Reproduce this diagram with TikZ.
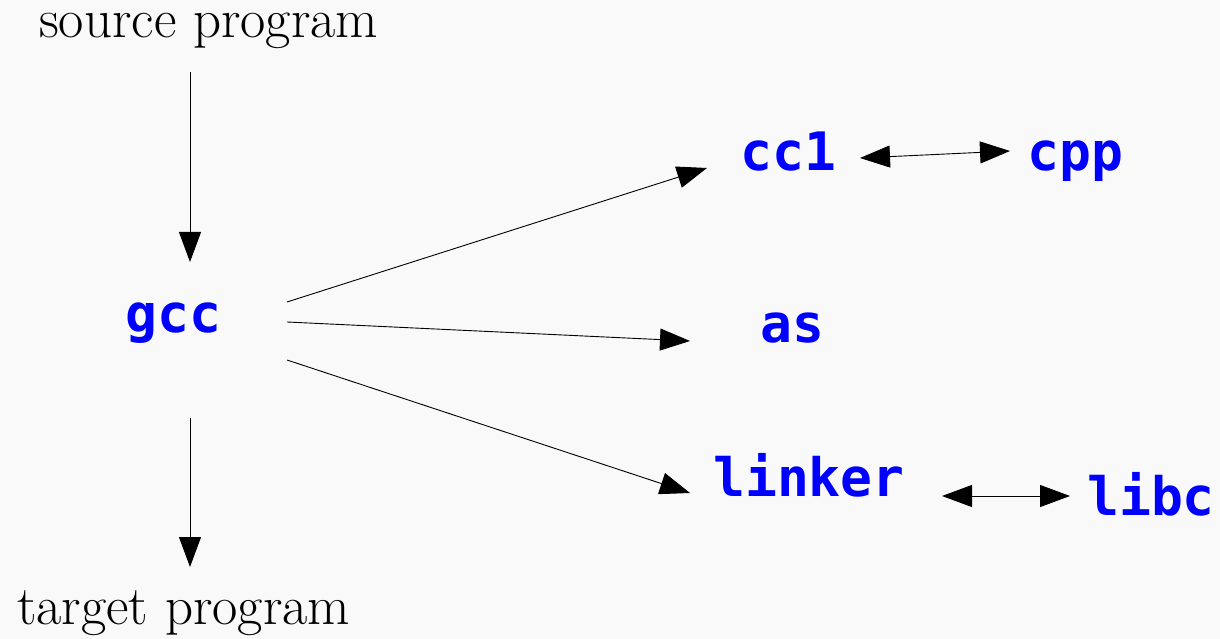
\documentclass[tikz,border=0pt]{standalone}
\usepackage{fontspec}
\newfontfamily\codefont{DejaVu Sans Mono}
\usetikzlibrary{arrows.meta}
\definecolor{codeblue}{RGB}{0,0,255}
\definecolor{bgc}{RGB}{249,249,249}
\tikzset{
  serif/.style={inner sep=0pt, anchor=base west, font=\fontsize{55bp}{60bp}\selectfont},
  code/.style={inner sep=0pt, anchor=base west, text=codeblue, font=\codefont\bfseries\fontsize{53bp}{60bp}\selectfont},
  conn/.style={line width=0.9bp, -{Triangle[length=30bp,width=22bp]}},
  biconn/.style={line width=0.9bp, {Triangle[length=30bp,width=22bp]}-{Triangle[length=30bp,width=22bp]}}
}
\begin{document}
\begin{tikzpicture}[x=1bp,y=-1bp]
\fill[bgc] (0,0) rectangle (1220,639);
\useasboundingbox (0,0) rectangle (1220,639);
\node[serif, text height=24bp] (src) at (39,38) {source program};
\node[serif] (tgt) at (17,624) {target program};
\node[code] (gcc) at (125,333) {gcc};
\node[code] (cc1) at (740,171) {cc1};
\node[code] (cpp) at (1027,171) {cpp};
\node[code] (as) at (760,343) {as};
\node[code] (linker) at (713,496) {linker};
\node[code] (libc) at (1087,515) {libc};
\draw[conn] ([shift={(151,34)}]src.base west) -- ([shift={(65,-71)}]gcc.base west);
\draw[conn] ([shift={(65,85)}]gcc.base west) -- ([shift={(173,-57)}]tgt.base west);
\draw[conn] ([shift={(162,-31)}]gcc.base west) -- ([shift={(-33,-3)}]cc1.base west);
\draw[conn] ([shift={(162,-11)}]gcc.base west) -- ([shift={(-70,-2)}]as.base west);
\draw[conn] ([shift={(162,27)}]gcc.base west) -- ([shift={(-23,-3)}]linker.base west);
\draw[biconn] ([shift={(120,-13)}]cc1.base west) -- ([shift={(-17,-20)}]cpp.base west);
\draw[biconn] ([shift={(229,0)}]linker.base west) -- ([shift={(-17,-19)}]libc.base west);
\end{tikzpicture}
\end{document}
